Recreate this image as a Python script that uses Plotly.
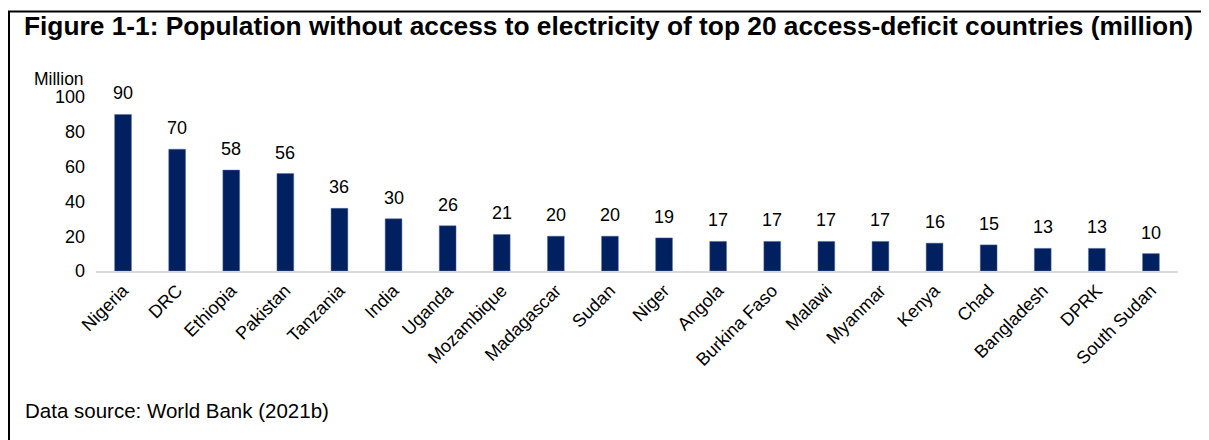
import plotly.graph_objects as go

countries = ["Nigeria", "DRC", "Ethiopia", "Pakistan", "Tanzania", "India", "Uganda",
             "Mozambique", "Madagascar", "Sudan", "Niger", "Angola", "Burkina Faso",
             "Malawi", "Myanmar", "Kenya", "Chad", "Bangladesh", "DPRK", "South Sudan"]
population_million = [90, 70, 58, 56, 36, 30, 26, 21, 20, 20, 19, 17, 17, 17, 17, 16, 15, 13, 13, 10]
y_ticks = [0, 20, 40, 60, 80, 100]

title_text = "Figure 1-1: Population without access to electricity of top 20 access-deficit countries (million)"
source_text = "Data source: World Bank (2021b)"
unit_text = "Million"

# page body has an 8px default margin; work in reference pixel coords and subtract it
OFF = 8
W, H = 1209 - OFF, 440 - OFF
plot_left, plot_right, plot_top, plot_bottom = 96, 1178, 97, 271
L = plot_left - OFF
R = W - (plot_right - OFF)
T = plot_top - OFF
B = H - (plot_bottom - OFF)
pw = plot_right - plot_left
ph = plot_bottom - plot_top

def px_x(p):
    return (p - plot_left) / pw

def px_y(p):
    return (plot_bottom - p) / ph

FONT = "Arial, Liberation Sans, sans-serif"

fig = go.Figure(go.Bar(
    x=countries, y=population_million,
    marker=dict(color="#002060", line=dict(color="#5a6f9a", width=0.5)),
    cliponaxis=False, width=0.31,
))

value_labels = [
    dict(x=c, y=v, text=str(v), xref="x", yref="y", showarrow=False,
         yanchor="bottom", xanchor="center", yshift=9,
         font=dict(size=18, family=FONT, color="#000000"))
    for c, v in zip(countries, population_million)
]

fig.update_layout(
    width=W, height=H,
    margin=dict(l=L, r=R, t=T, b=B, autoexpand=False),
    paper_bgcolor="white", plot_bgcolor="white",
    showlegend=False,
    font=dict(family=FONT, color="#000000"),
    xaxis=dict(
        tickangle=-45, tickfont=dict(size=18, family=FONT, color="#000000"),
        showline=True, linecolor="#d9d9d9", linewidth=2, showgrid=False,
        ticks="", range=[-0.5, 19.5],
    ),
    yaxis=dict(
        range=[0, 100], tickvals=y_ticks, tickfont=dict(size=18, family=FONT, color="#000000"),
        showgrid=False, zeroline=False, showline=False, ticks="",
        ticklabelstandoff=10,
    ),
    shapes=[
        dict(type="rect", xref="paper", yref="paper",
             x0=px_x(9), x1=px_x(1204), y0=px_y(470), y1=px_y(11.5),
             line=dict(color="black", width=2), fillcolor="rgba(0,0,0,0)", layer="above"),
    ],
    annotations=value_labels + [
        dict(text="<b>" + title_text + "</b>", xref="paper", yref="paper",
             x=px_x(22), y=px_y(26), xanchor="left", yanchor="middle",
             showarrow=False, font=dict(size=26.3, family=FONT, color="#000000")),
        dict(text=unit_text, xref="paper", yref="paper",
             x=px_x(86), y=px_y(79), xanchor="right", yanchor="middle",
             showarrow=False, font=dict(size=17.5, family=FONT, color="#000000")),
        dict(text=source_text, xref="paper", yref="paper",
             x=px_x(23), y=px_y(410), xanchor="left", yanchor="middle",
             showarrow=False, font=dict(size=20.5, family=FONT, color="#000000")),
    ],
)

fig.write_html("out.html")
